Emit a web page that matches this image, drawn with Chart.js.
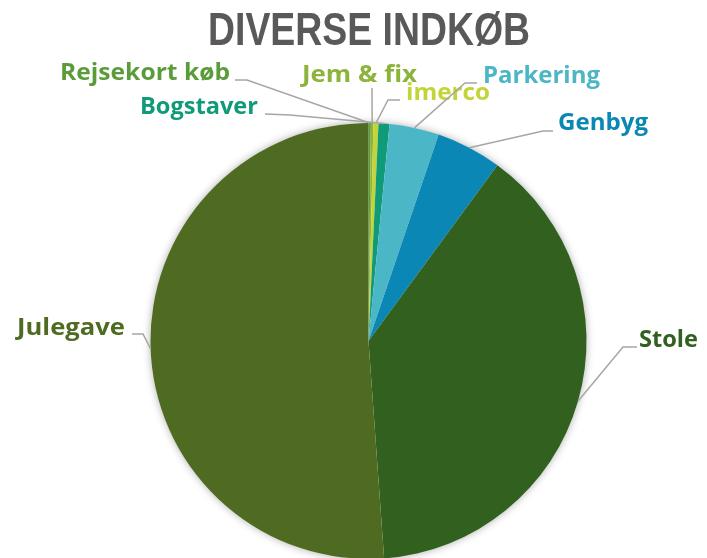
<!DOCTYPE html>
<html>
<head>
<meta charset="utf-8">
<script src="https://cdn.jsdelivr.net/npm/chart.js@4/dist/chart.umd.min.js"></script>
<style>
html, body { margin: 0; padding: 0; overflow: hidden; background: #ffffff; }
#wrap { position: relative; width: 707px; height: 560px; }
</style>
</head>
<body>
<div id="wrap"><canvas id="c"></canvas></div>
<script>
// ---- Data ----
const categories = ["Rejsekort køb", "Jem & fix", "imerco", "Bogstaver", "Parkering", "Genbyg", "Stole", "Julegave"];
const values = [60, 65, 130, 280, 1280, 1690, 13500, 17800];
const sliceColors = ["#5b9c3a", "#8cb43a", "#c3d436", "#0f9a78", "#4bb6c6", "#0a87b4", "#31601f", "#4f6b21"];
const titleText = "DIVERSE INDKØB";

// ---- Label layout (text box and elbow of leader line) ----
const labelLayout = [
  { x: 60,  y: 80,  w: 170, elbow: [[235, 80], [247, 80]] },
  { x: 302, y: 82,  w: 115, elbow: [[372, 88]] },
  { x: 406, y: 100, w: 84,  elbow: [[400, 100], [388, 100]] },
  { x: 140, y: 114, w: 118, elbow: [[265, 114], [290, 115]] },
  { x: 483, y: 83,  w: 117, elbow: [[477, 83], [465, 83]] },
  { x: 558, y: 130, w: 90,  elbow: [[553, 131], [543, 131]] },
  { x: 639, y: 347, w: 59,  elbow: [[637, 347], [623, 347]] },
  { x: 17,  y: 335, w: 108, elbow: [[132, 334], [143, 334]] }
];

function fitText(ctx, text, x, y, w) {
  const m = ctx.measureText(text).width;
  ctx.save();
  ctx.translate(x, y);
  ctx.scale(w / m, 1);
  ctx.fillText(text, 0, 0);
  ctx.restore();
}

const shadowPlugin = {
  id: 'pieShadow',
  beforeDatasetsDraw(chart) {
    const meta = chart.getDatasetMeta(0);
    const a = meta.data[0];
    if (!a) return;
    const ctx = chart.ctx;
    ctx.save();
    ctx.shadowColor = 'rgba(0,0,0,0.35)';
    ctx.shadowBlur = 9;
    ctx.fillStyle = '#ffffff';
    ctx.beginPath();
    ctx.arc(a.x, a.y, a.outerRadius - 0.5, 0, Math.PI * 2);
    ctx.fill();
    ctx.restore();
  }
};

const labelPlugin = {
  id: 'labels',
  afterDatasetsDraw(chart) {
    const ctx = chart.ctx;
    const meta = chart.getDatasetMeta(0);
    ctx.save();
    // title
    ctx.fillStyle = '#595959';
    ctx.font = 'bold 46px "Liberation Sans", sans-serif';
    ctx.textAlign = 'left';
    ctx.textBaseline = 'alphabetic';
    fitText(ctx, titleText, 208, 45, 322);
    // labels
    ctx.font = 'bold 23px "Open Sans", Lato, sans-serif';
    meta.data.forEach((arc, i) => {
      const L = labelLayout[i];
      const mid = (arc.startAngle + arc.endAngle) / 2;
      const ax = arc.x + Math.cos(mid) * arc.outerRadius;
      const ay = arc.y + Math.sin(mid) * arc.outerRadius;
      ctx.strokeStyle = '#a6a6a6';
      ctx.lineWidth = 1.5;
      ctx.beginPath();
      ctx.moveTo(L.elbow[0][0], L.elbow[0][1]);
      for (let k = 1; k < L.elbow.length; k++) ctx.lineTo(L.elbow[k][0], L.elbow[k][1]);
      ctx.lineTo(ax, ay);
      ctx.stroke();
      ctx.fillStyle = sliceColors[i];
      fitText(ctx, categories[i], L.x, L.y, L.w);
    });
    ctx.restore();
  }
};

new Chart(document.getElementById('c'), {
  type: 'pie',
  data: {
    labels: categories,
    datasets: [{
      data: values,
      backgroundColor: sliceColors,
      borderWidth: 0
    }]
  },
  options: {
    responsive: true,
    maintainAspectRatio: false,
    animation: false,
    layout: { padding: { top: 123, bottom: 1, left: 150.5, right: 120.5 } },
    plugins: {
      legend: { display: false },
      tooltip: { enabled: false },
      title: { display: false }
    }
  },
  plugins: [shadowPlugin, labelPlugin]
});
</script>
</body>
</html>
